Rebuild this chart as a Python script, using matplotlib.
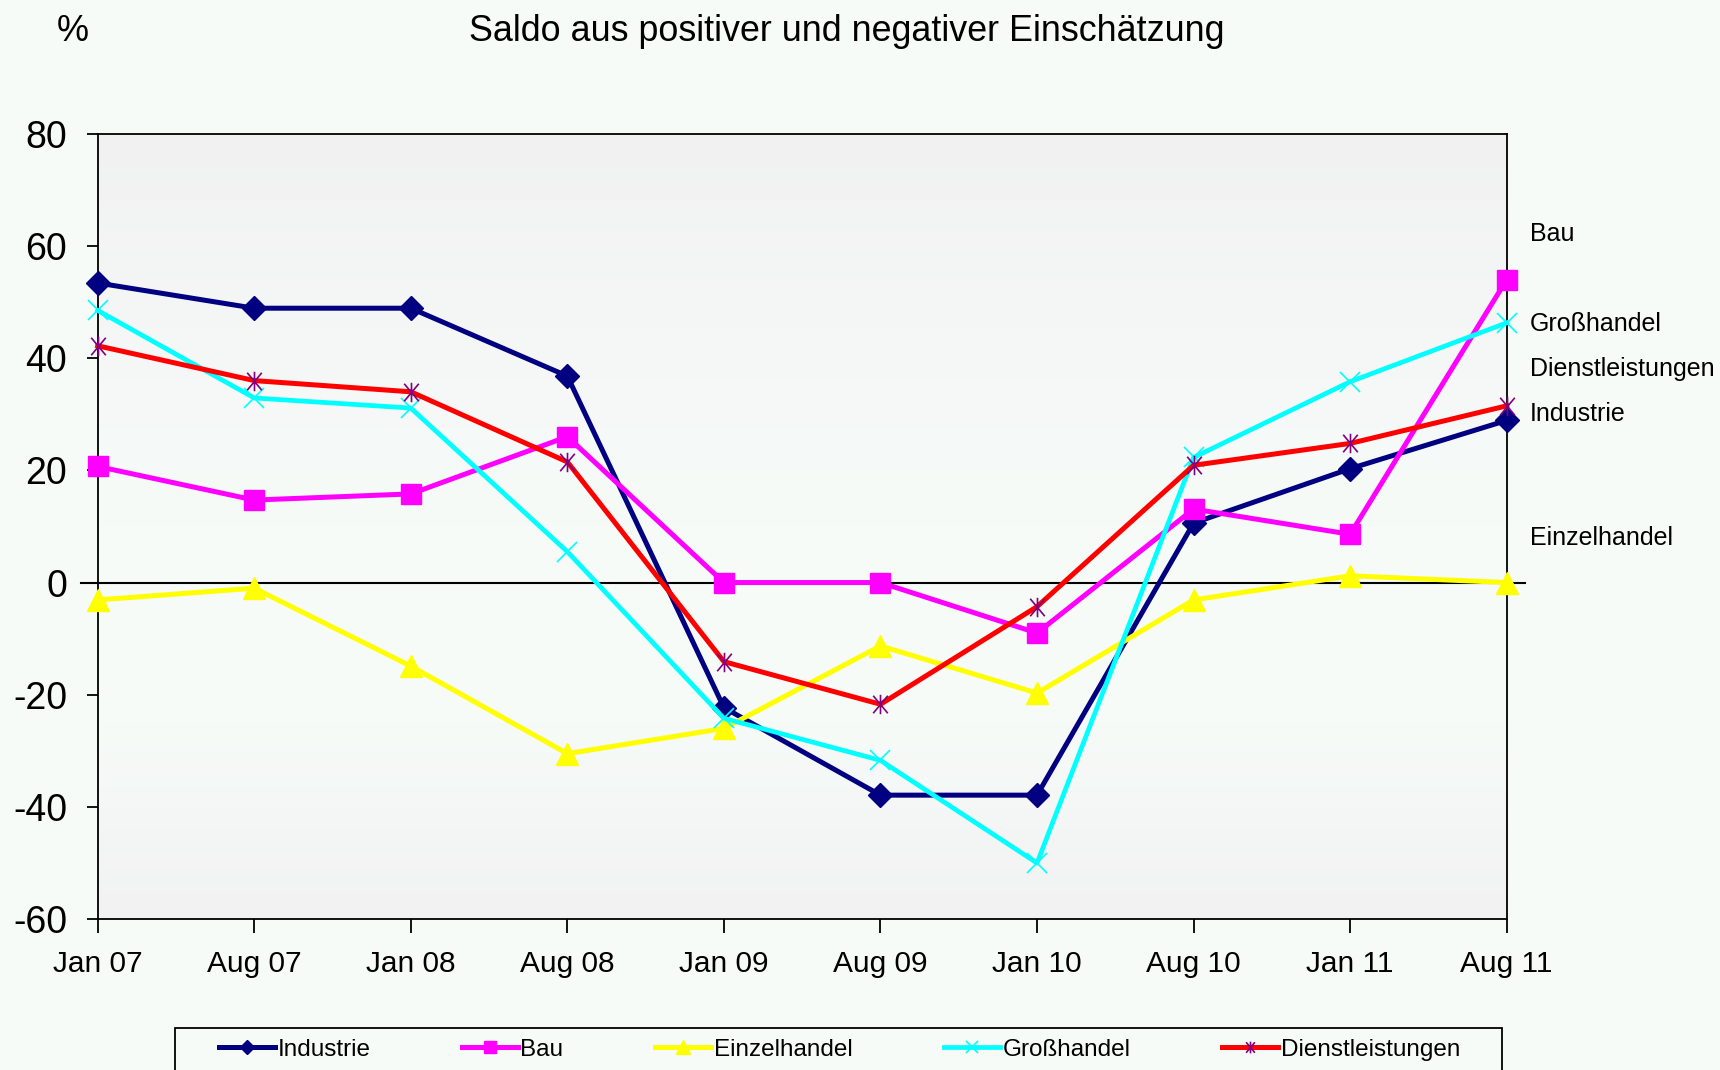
import numpy as np
import matplotlib
matplotlib.use("Agg")
import matplotlib.pyplot as plt
from matplotlib.path import Path
from matplotlib.patches import Rectangle
from matplotlib.colors import LinearSegmentedColormap

plt.rcParams['font.family'] = ['Liberation Sans', 'DejaVu Sans']
plt.rcParams['axes.unicode_minus'] = False

# data
periods = ['Jan 07', 'Aug 07', 'Jan 08', 'Aug 08', 'Jan 09',
           'Aug 09', 'Jan 10', 'Aug 10', 'Jan 11', 'Aug 11']
industrie = [53.4, 48.9, 48.9, 36.8, -22.3, -37.9, -37.9, 10.6, 20.3, 28.9]
bau = [20.7, 14.7, 15.8, 26.0, 0.0, 0.0, -9.0, 13.1, 8.6, 54.0]
einzelhandel = [-3.1, -1.0, -14.9, -30.5, -26.0, -11.3, -19.7, -3.1, 1.2, 0.0]
grosshandel = [48.5, 32.9, 31.1, 5.5, -24.2, -31.7, -50.0, 22.3, 35.8, 46.3]
dienstleistungen = [42.2, 36.0, 34.0, 21.5, -14.1, -21.7, -4.3, 20.9, 24.8, 31.5]

# right-hand labels: name -> y position of the text
end_labels = {'Bau': 62.2, 'Großhandel': 46.0, 'Dienstleistungen': 38.0,
              'Industrie': 30.0, 'Einzelhandel': 7.9}

# Excel style asterisk (x plus vertical bar)
asterisk = Path([(0, -1), (0, 1), (-0.75, -0.9), (0.75, 0.9), (-0.75, 0.9), (0.75, -0.9)],
                [Path.MOVETO, Path.LINETO] * 3)

bg = '#F6FBF8'
fig = plt.figure(figsize=(17.2, 10.7), dpi=100, facecolor=bg)
ax = fig.add_axes([0.0568, 0.141, 0.8192, 0.734])

x = np.arange(len(periods))

# plot area gradient
cmap = LinearSegmentedColormap.from_list('bg', ['#F1F1F1', '#F5F7F6', '#F6FBF8', '#F6FBF8', '#F2F2F2'])
grad = np.linspace(0, 1, 256).reshape(-1, 1)
ax.imshow(grad, extent=(0, 9, -60, 80), aspect='auto', cmap=cmap, origin='upper', zorder=0)

style = dict(zorder=3, clip_on=False)
ax.plot(x, industrie, color='#000080', lw=3.6, marker='D', ms=12, label='Industrie', **style)
ax.plot(x, bau, color='#FF00FF', lw=3.6, marker='s', ms=15, label='Bau', **style)
ax.plot(x, einzelhandel, color='#FFFF00', lw=3.6, marker='^', ms=16, label='Einzelhandel', **style)
ax.plot(x, grosshandel, color='#00FFFF', lw=3.4, marker='x', ms=14, mew=1.2,
        label='Großhandel', **style)
ax.plot(x, dienstleistungen, color='#FF0000', lw=3.6, marker=asterisk, ms=14, mew=1.2,
        mec='#800080', label='Dienstleistungen', **style)

ax.axhline(0, xmin=-0.012, xmax=1.013, color='black', lw=1.5, clip_on=False, zorder=2)

ax.set_xlim(0, 9)
ax.set_ylim(-60, 80)
ax.set_xticks(x)
ax.set_xticklabels(periods)
ax.set_yticks(np.arange(-60, 81, 20))
ax.tick_params(axis='y', direction='out', length=8, width=1.3, labelsize=27, pad=14)
ax.tick_params(axis='x', direction='out', length=10, width=1.3, labelsize=21.5, pad=12)
for s in ax.spines.values():
    s.set_linewidth(1.3)
    s.set_color('black')

for name, yv in end_labels.items():
    ax.text(9.15, yv, name, fontsize=18, va='center', ha='left', clip_on=False)

fig.text(0.0424, 0.971, '%', fontsize=26, ha='center', va='center')
fig.text(0.4925, 0.971, 'Saldo aus positiver und negativer Einschätzung',
         fontsize=25.8, ha='center', va='center')

# legend: entries spread across, frame drawn separately (cut by the bottom edge)
leg = fig.legend(loc='center', bbox_to_anchor=(0.1273, 0.0087, 0.7215, 0.02),
                 ncol=5, mode='expand', fontsize=17.5, frameon=False,
                 handlelength=2.3, handletextpad=0.1, markerscale=0.6,
                 borderpad=0, borderaxespad=0)
fig.add_artist(Rectangle((0.1017, -0.05), 0.7715, 0.0893, transform=fig.transFigure,
                         fill=False, ec='black', lw=1.3))

fig.savefig('out.png', dpi=100, facecolor=bg)
